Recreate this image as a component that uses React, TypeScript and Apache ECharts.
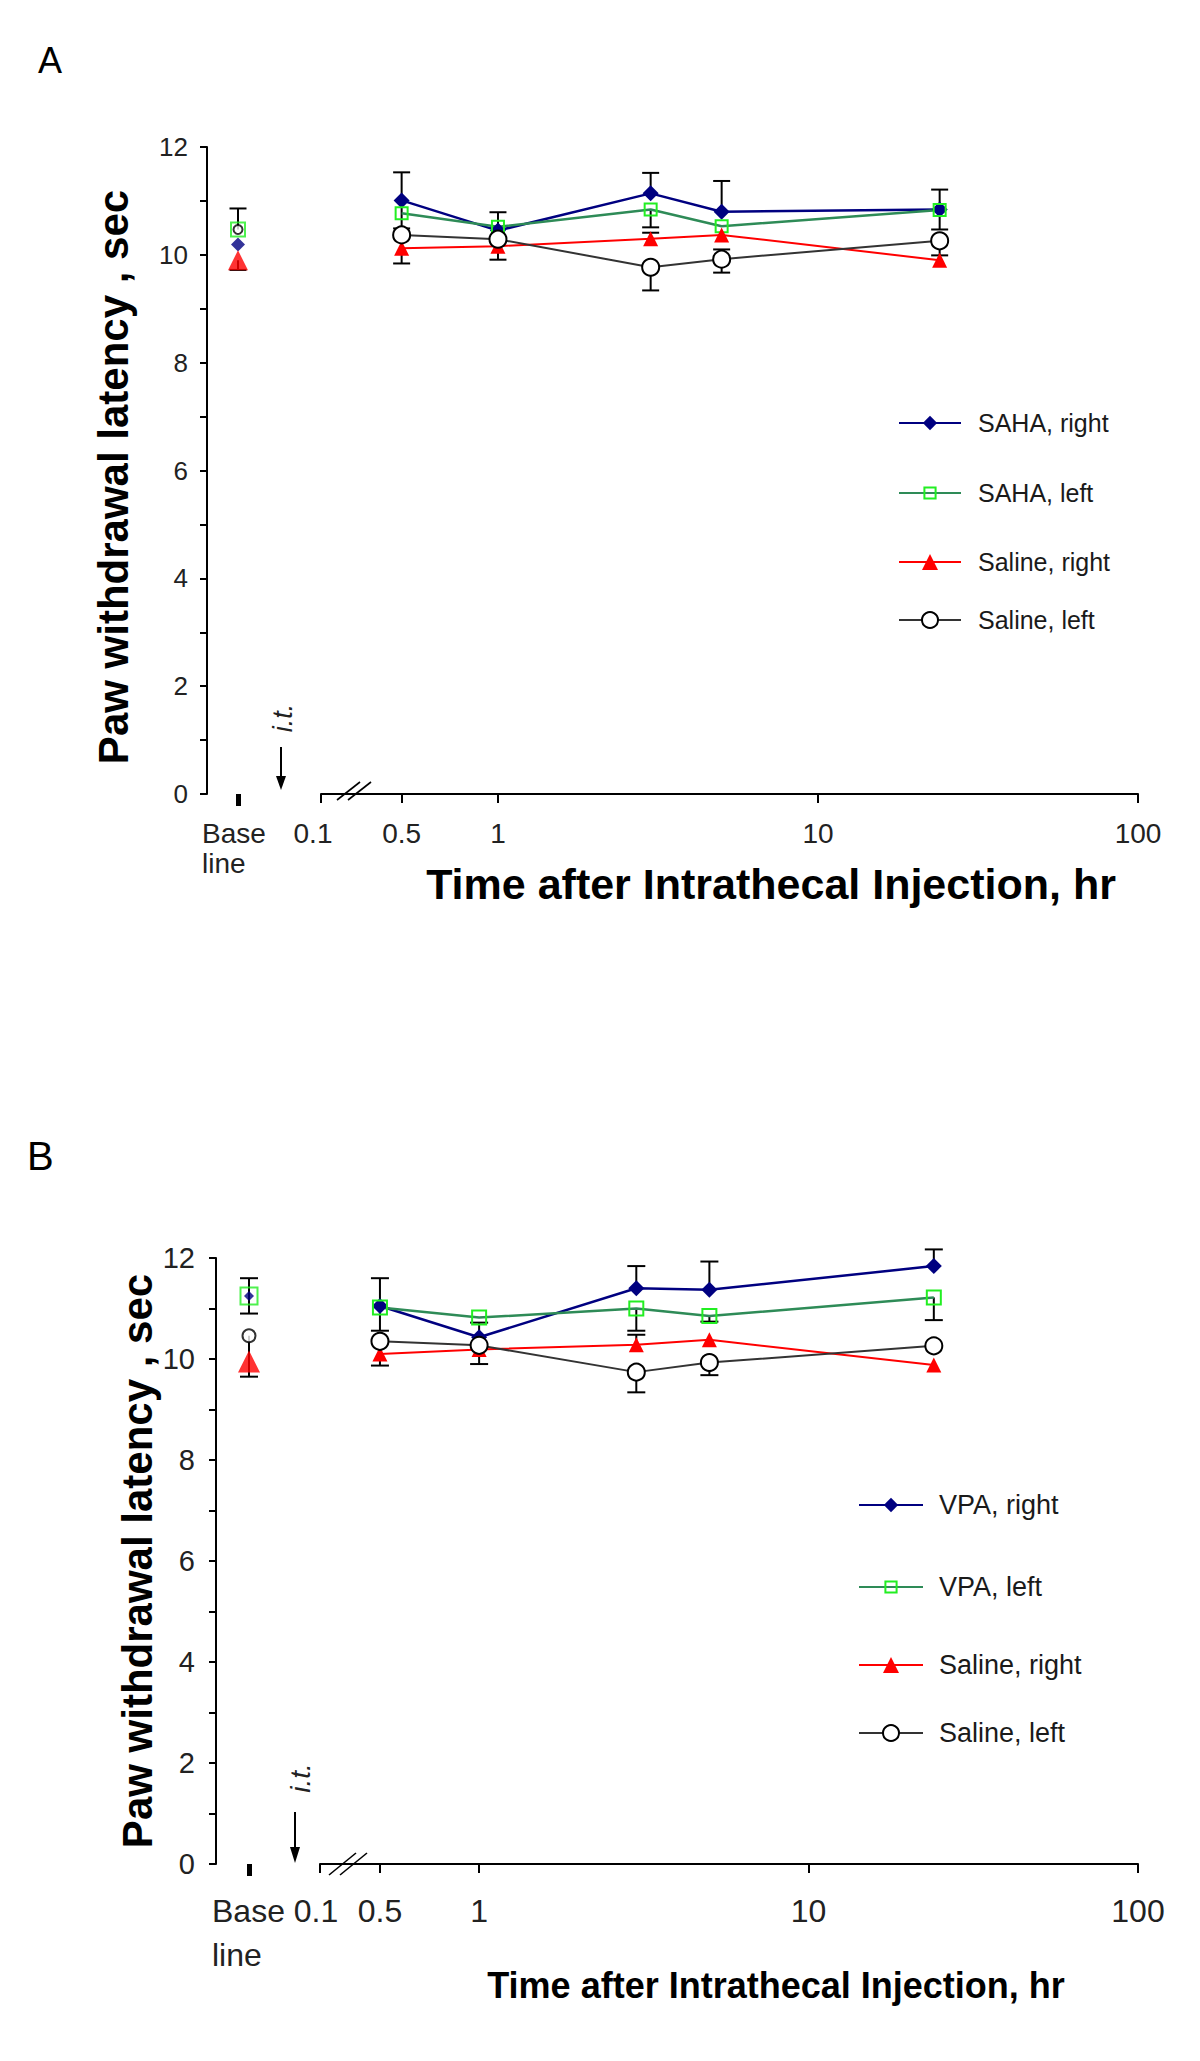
import { useEffect, useRef } from "react";
import * as echarts from "echarts";

// ---------------- data ----------------
const TIMES_HR = [0.5, 1, 3, 5, 24];
const X_TICK_HOURS = [0.5, 1, 10, 100]; // log-scale ticks after the axis break
const X_TICK_LABELS = ["0.1", "0.5", "1", "10", "100"]; // first label sits at the start of the broken axis
const Y_LABELED_TICKS = [0, 2, 4, 6, 8, 10, 12];
const BASELINE_CATEGORY = ["Base line"];

// Panel A
const A_NAMES = ["SAHA, right", "SAHA, left", "Saline, right", "Saline, left"];
const A_SAHA_RIGHT = [11.01, 10.45, 11.14, 10.8, 10.84];
const A_SAHA_LEFT = [10.77, 10.52, 10.84, 10.53, 10.83];
const A_SALINE_RIGHT = [10.12, 10.16, 10.3, 10.37, 9.9];
const A_SALINE_LEFT = [10.37, 10.29, 9.77, 9.92, 10.26];
const A_SAHA_RIGHT_ERR_UP = [0.52, 0.34, 0.38, 0.57, 0.37];
const A_SAHA_RIGHT_ERR_DOWN = [0.52, 0, 0, 0, 0.37];
const A_SAHA_LEFT_ERR_UP = [0, 0, 0, 0, 0];
const A_SAHA_LEFT_ERR_DOWN = [0, 0, 0.33, 0, 0];
const A_SALINE_RIGHT_ERR_UP = [0, 0, 0.11, 0, 0];
const A_SALINE_RIGHT_ERR_DOWN = [0.28, 0.25, 0, 0, 0];
const A_SALINE_LEFT_ERR_UP = [0, 0, 0, 0.18, 0];
const A_SALINE_LEFT_ERR_DOWN = [0, 0, 0.43, 0.25, 0.27];
const A_BASELINE = [10.19, 10.47, 9.9, 10.47];
const A_BASELINE_ERR_UP = [0, 0.39, 0, 0];
const A_BASELINE_ERR_DOWN = [0, 0, 0.18, 0];

// Panel B
const B_NAMES = ["VPA, right", "VPA, left", "Saline, right", "Saline, left"];
const B_VPA_RIGHT = [11.05, 10.43, 11.4, 11.37, 11.84];
const B_VPA_LEFT = [11.02, 10.82, 11.0, 10.85, 11.22];
const B_SALINE_RIGHT = [10.1, 10.19, 10.28, 10.38, 9.88];
const B_SALINE_LEFT = [10.35, 10.27, 9.74, 9.93, 10.26];
const B_VPA_RIGHT_ERR_UP = [0.55, 0.29, 0.44, 0.56, 0.33];
const B_VPA_RIGHT_ERR_DOWN = [0.49, 0, 0, 0, 0];
const B_VPA_LEFT_ERR_UP = [0, 0, 0, 0, 0];
const B_VPA_LEFT_ERR_DOWN = [0, 0, 0.44, 0.11, 0.45];
const B_SALINE_RIGHT_ERR_UP = [0, 0, 0.2, 0, 0];
const B_SALINE_RIGHT_ERR_DOWN = [0.23, 0.29, 0, 0, 0];
const B_SALINE_LEFT_ERR_UP = [0, 0, 0, 0, 0];
const B_SALINE_LEFT_ERR_DOWN = [0, 0, 0.4, 0.25, 0];
const B_BASELINE = [11.25, 11.25, 9.95, 10.46];
const B_BASELINE_ERR_UP = [0.35, 0, 0, 0];
const B_BASELINE_ERR_DOWN = [0.35, 0, 0, 0.81];

const Y_TITLE = "Paw withdrawal latency , sec";
const X_TITLE = "Time after Intrathecal Injection, hr";

// ---------------- styles / layout ----------------
const FONT = "'Liberation Sans', Arial, Helvetica, sans-serif";

const STYLES = [
  { symbol: "diamond", fill: "#000080", border: "#000080", bw: 0, line: "#000080", lw: 2.5 },
  { symbol: "rect", fill: "rgba(255,255,255,0)", border: "#22ee22", bw: 2, line: "#2e8b57", lw: 2.5 },
  { symbol: "triangle", fill: "#ff0000", border: "#ff0000", bw: 0, line: "#ff0000", lw: 2 },
  { symbol: "circle", fill: "#ffffff", border: "#000000", bw: 2, line: "#333333", lw: 2 },
];

const PANELS = [
  {
    key: "A",
    names: A_NAMES,
    values: [A_SAHA_RIGHT, A_SAHA_LEFT, A_SALINE_RIGHT, A_SALINE_LEFT],
    up: [A_SAHA_RIGHT_ERR_UP, A_SAHA_LEFT_ERR_UP, A_SALINE_RIGHT_ERR_UP, A_SALINE_LEFT_ERR_UP],
    down: [A_SAHA_RIGHT_ERR_DOWN, A_SAHA_LEFT_ERR_DOWN, A_SALINE_RIGHT_ERR_DOWN, A_SALINE_LEFT_ERR_DOWN],
    baseline: A_BASELINE,
    baseUp: A_BASELINE_ERR_UP,
    baseDown: A_BASELINE_ERR_DOWN,
    L: {
      axisX: 207, top: 147, bottom: 794, baseWidth: 62, mainLeft: 321, mainRight: 1138, xStart: -0.553,
      sizes: [16, 12, 15, 17], baseSizes: [14, 14, 20, 9], cap: 8.5,
      yFont: 26, yMargin: 19, xFont: 28, xMargin: 25, firstPad: 16, baseLineH: 30, baseMargin: 24, baseBox: 72,
      yTitleGap: 73, yTitlePad: [0, 13, 0, 0], xTitleFont: 43, xTitleGap: 68, xTitlePad: [0, 0, 0, 83],
      legendLeft: 898, legendItemW: 62, legendRows: [423, 493, 562, 620], legendItemH: [18, 14, 20, 20],
      legendFont: 25, legendPad: 12,
    },
  },
  {
    key: "B",
    names: B_NAMES,
    values: [B_VPA_RIGHT, B_VPA_LEFT, B_SALINE_RIGHT, B_SALINE_LEFT],
    up: [B_VPA_RIGHT_ERR_UP, B_VPA_LEFT_ERR_UP, B_SALINE_RIGHT_ERR_UP, B_SALINE_LEFT_ERR_UP],
    down: [B_VPA_RIGHT_ERR_DOWN, B_VPA_LEFT_ERR_DOWN, B_SALINE_RIGHT_ERR_DOWN, B_SALINE_LEFT_ERR_DOWN],
    baseline: B_BASELINE,
    baseUp: B_BASELINE_ERR_UP,
    baseDown: B_BASELINE_ERR_DOWN,
    L: {
      axisX: 216, top: 1258, bottom: 1864, baseWidth: 66, mainLeft: 320, mainRight: 1138, xStart: -0.483,
      sizes: [16, 14, 15, 17], baseSizes: [10, 17, 22, 13], cap: 9,
      yFont: 29, yMargin: 21, xFont: 32, xMargin: 31, firstPad: 8, baseLineH: 44, baseMargin: 25, baseBox: 74,
      yTitleGap: 58, yTitlePad: [0, 0, 0, 0], xTitleFont: 36, xTitleGap: 103, xTitlePad: [0, 0, 0, 94],
      legendLeft: 858, legendItemW: 64, legendRows: [1505, 1587, 1665, 1733], legendItemH: [18, 14, 20, 20],
      legendFont: 27, legendPad: 11,
    },
  },
];

function errRows(xs: number[], ys: number[], up: number[], dn: number[]) {
  const out: number[][] = [];
  for (let i = 0; i < ys.length; i++) {
    const u = up[i] || 0;
    const d = dn[i] || 0;
    if (u > 0 || d > 0) out.push([xs[i], ys[i], u, d]);
  }
  return out;
}

function errorSeries(id: string, xAxisIndex: number, yAxisIndex: number, data: number[][], capHalf: number) {
  return {
    type: "custom",
    id,
    name: id,
    xAxisIndex,
    yAxisIndex,
    z: 2,
    silent: true,
    data,
    encode: { x: 0, y: 1 },
    renderItem: (_params: any, api: any) => {
      const x = api.value(0);
      const y = api.value(1);
      const u = api.value(2);
      const d = api.value(3);
      const p0 = api.coord([x, y + u]);
      const p1 = api.coord([x, y - d]);
      const style = { stroke: "#000", lineWidth: 2 };
      const children: any[] = [
        { type: "line", shape: { x1: p0[0], y1: p0[1], x2: p1[0], y2: p1[1] }, style },
      ];
      if (u > 0)
        children.push({ type: "line", shape: { x1: p0[0] - capHalf, y1: p0[1], x2: p0[0] + capHalf, y2: p0[1] }, style });
      if (d > 0)
        children.push({ type: "line", shape: { x1: p1[0] - capHalf, y1: p1[1], x2: p1[0] + capHalf, y2: p1[1] }, style });
      return { type: "group", children };
    },
  };
}

function buildOption() {
  const grid: any[] = [];
  const xAxis: any[] = [];
  const yAxis: any[] = [];
  const series: any[] = [];
  const legend: any[] = [];

  PANELS.forEach((P, pi) => {
    const L = P.L;
    const gBase = pi * 2;
    const gMain = pi * 2 + 1;
    const height = L.bottom - L.top;
    grid.push({ left: L.axisX, top: L.top, width: L.baseWidth, height, outerBoundsMode: "none" });
    grid.push({ left: L.mainLeft, top: L.top, width: L.mainRight - L.mainLeft, height, outerBoundsMode: "none" });

    const tickVals = [L.xStart, ...X_TICK_HOURS.map((h) => Math.log10(h))];

    // baseline (category) x axis
    xAxis.push({
      type: "category",
      gridIndex: gBase,
      data: BASELINE_CATEGORY,
      boundaryGap: true,
      axisLine: { show: false, onZero: false },
      axisTick: { show: true, alignWithLabel: true, length: 12, lineStyle: { color: "#000", width: 5 } },
      axisLabel: {
        margin: L.baseMargin,
        formatter: (v: string) => v.split(" ").map((w) => `{a|${w}}`).join("\n"),
        rich: { a: { width: L.baseBox, align: "left", fontSize: L.xFont, lineHeight: L.baseLineH, color: "#222", fontFamily: FONT } },
      },
      splitLine: { show: false },
    });
    // main log-time x axis (values in log10 hours)
    xAxis.push({
      type: "value",
      gridIndex: gMain,
      min: L.xStart,
      max: 2,
      axisLine: { show: true, onZero: false, lineStyle: { color: "#000", width: 2 } },
      axisTick: { show: true, length: 9, customValues: tickVals, lineStyle: { color: "#000", width: 2 } },
      axisLabel: {
        customValues: tickVals,
        fontSize: L.xFont,
        margin: L.xMargin,
        color: "#222",
        fontFamily: FONT,
        formatter: (v: number) => {
          const i = tickVals.findIndex((t) => Math.abs(t - v) < 1e-6);
          if (i < 0) return "";
          return i === 0 ? `{s|${X_TICK_LABELS[i]}}` : X_TICK_LABELS[i];
        },
        rich: { s: { fontSize: L.xFont, color: "#222", fontFamily: FONT, padding: [0, L.firstPad, 0, 0] } },
      },
      splitLine: { show: false },
      name: X_TITLE,
      nameLocation: "middle",
      nameGap: L.xTitleGap,
      nameTextStyle: { fontSize: L.xTitleFont, fontWeight: "bold", color: "#000", fontFamily: FONT, padding: L.xTitlePad },
    });

    yAxis.push({
      type: "value",
      gridIndex: gBase,
      min: 0,
      max: 12,
      interval: 1,
      axisLine: { show: true, onZero: false, lineStyle: { color: "#000", width: 2 } },
      axisTick: { show: true, length: 7, lineStyle: { color: "#000", width: 2 } },
      axisLabel: {
        fontSize: L.yFont,
        margin: L.yMargin,
        color: "#222",
        fontFamily: FONT,
        formatter: (v: number) => (Y_LABELED_TICKS.includes(v) ? String(v) : ""),
      },
      splitLine: { show: false },
      name: Y_TITLE,
      nameLocation: "middle",
      nameGap: L.yTitleGap,
      nameTextStyle: { fontSize: 42, fontWeight: "bold", color: "#000", fontFamily: FONT, padding: L.yTitlePad },
    });
    yAxis.push({ type: "value", gridIndex: gMain, min: 0, max: 12, show: false, splitLine: { show: false } });

    const xs = TIMES_HR.map((t) => Math.log10(t));

    // error bars first (behind markers)
    P.values.forEach((vals, si) => {
      series.push(errorSeries(`${P.key}-err-${si}`, gMain, gMain, errRows(xs, vals, P.up[si], P.down[si]), L.cap));
    });
    series.push(
      errorSeries(`${P.key}-err-base`, gBase, gBase, errRows([0, 0, 0, 0], P.baseline, P.baseUp, P.baseDown), L.cap)
    );

    P.values.forEach((vals, si) => {
      const st = STYLES[si];
      series.push({
        type: "line",
        name: P.names[si],
        xAxisIndex: gMain,
        yAxisIndex: gMain,
        z: 3,
        silent: true,
        data: xs.map((x, i) => [x, vals[i]]),
        symbol: st.symbol,
        symbolSize: L.sizes[si],
        showSymbol: true,
        showAllSymbol: true,
        lineStyle: { color: st.line, width: st.lw },
        itemStyle: { color: st.fill, borderColor: st.border, borderWidth: st.bw },
        emphasis: { disabled: true },
      });
    });
    P.baseline.forEach((v, si) => {
      const st = STYLES[si];
      series.push({
        type: "scatter",
        name: `${P.names[si]} (baseline)`,
        xAxisIndex: gBase,
        yAxisIndex: gBase,
        z: 3,
        silent: true,
        data: [[0, v]],
        symbol: st.symbol,
        symbolSize: L.baseSizes[si],
        itemStyle: { color: st.fill, borderColor: st.border, borderWidth: st.bw },
        emphasis: { disabled: true },
      });
    });

    P.names.forEach((name, si) => {
      const ih = L.legendItemH[si];
      legend.push({
        data: [name],
        left: L.legendLeft,
        top: L.legendRows[si] - Math.max(ih, L.legendFont) / 2,
        orient: "horizontal",
        padding: 0,
        itemWidth: L.legendItemW,
        itemHeight: ih,
        selectedMode: false,
        textStyle: { fontSize: L.legendFont, color: "#1a1a1a", fontFamily: FONT, padding: [0, 0, 0, L.legendPad] },
      });
    });
  });

  const black = { stroke: "#000", lineWidth: 1.6 };
  const graphic: any[] = [
    // panel letters
    { type: "text", left: 38, top: 42, style: { text: "A", fontSize: 36, fill: "#000", fontFamily: FONT } },
    { type: "text", left: 27, top: 1136, style: { text: "B", fontSize: 40, fill: "#000", fontFamily: FONT } },
    // axis breaks
    { type: "line", shape: { x1: 337, y1: 800, x2: 360, y2: 782 }, style: black },
    { type: "line", shape: { x1: 348, y1: 800, x2: 371, y2: 782 }, style: black },
    { type: "line", shape: { x1: 329, y1: 1875, x2: 356, y2: 1853 }, style: black },
    { type: "line", shape: { x1: 340, y1: 1875, x2: 367, y2: 1853 }, style: black },
    // injection arrows
    { type: "line", shape: { x1: 281, y1: 747, x2: 281, y2: 779 }, style: { stroke: "#000", lineWidth: 2 } },
    { type: "polygon", shape: { points: [[276, 776], [286, 776], [281, 790]] }, style: { fill: "#000" } },
    { type: "line", shape: { x1: 295, y1: 1812, x2: 295, y2: 1850 }, style: { stroke: "#000", lineWidth: 2 } },
    { type: "polygon", shape: { points: [[290, 1847], [300, 1847], [295, 1863]] }, style: { fill: "#000" } },
    // i.t. labels
    {
      type: "text", x: 283, y: 718, rotation: Math.PI / 2,
      style: { text: "i.t.", fontSize: 27, fontStyle: "italic", fill: "#222", fontFamily: FONT, align: "center", verticalAlign: "middle" },
    },
    {
      type: "text", x: 300, y: 1778, rotation: Math.PI / 2,
      style: { text: "i.t.", fontSize: 28, fontStyle: "italic", fill: "#222", fontFamily: FONT, align: "center", verticalAlign: "middle" },
    },
  ];

  return {
    animation: false,
    backgroundColor: "#ffffff",
    textStyle: { fontFamily: FONT },
    grid,
    xAxis,
    yAxis,
    legend,
    series,
    graphic,
  };
}

export default function App() {
  const ref = useRef<HTMLDivElement>(null);
  useEffect(() => {
    document.body.style.margin = "0";
    const chart = echarts.init(ref.current as HTMLDivElement, null, { renderer: "svg" });
    chart.setOption(buildOption() as any);
    return () => chart.dispose();
  }, []);
  return <div ref={ref} style={{ width: 1200, height: 2061, background: "#fff" }} />;
}
